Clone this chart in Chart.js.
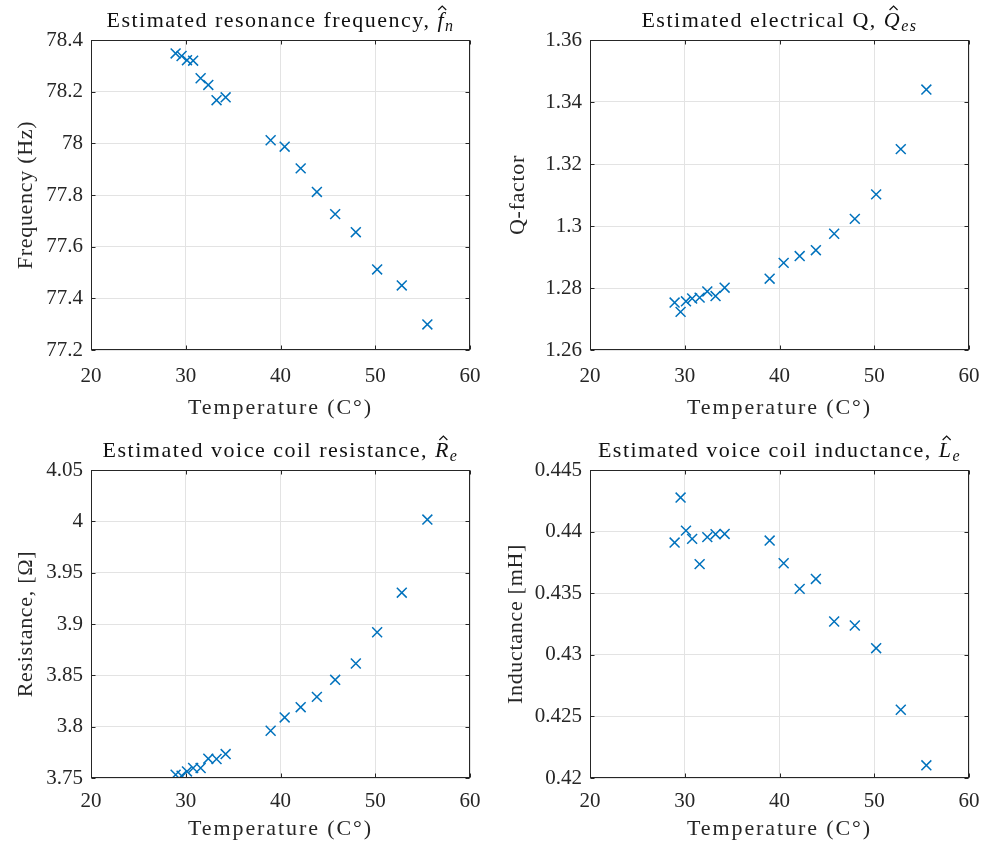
<!DOCTYPE html>
<html>
<head>
<meta charset="utf-8">
<script src="https://cdn.jsdelivr.net/npm/chart.js@4.4.1/dist/chart.umd.min.js"></script>
<style>
  body { margin: 0; background: #fff; }
  #wrap { position: relative; width: 982px; height: 845px; }
  canvas { position: absolute; }
</style>
</head>
<body>
<div id="wrap">
  <canvas id="freq" width="491" height="425" style="left:0;top:0"></canvas>
  <canvas id="qes" width="491" height="425" style="left:491px;top:0"></canvas>
  <canvas id="res" width="491" height="420" style="left:0;top:425px"></canvas>
  <canvas id="ind" width="491" height="420" style="left:491px;top:425px"></canvas>
</div>
<script>
var temperature = [28.93, 29.56, 30.13, 30.78, 31.57, 32.38, 33.25, 34.21, 38.96, 40.44, 42.13, 43.84, 45.77, 47.95, 50.2, 52.8, 55.5];
var frequency = [78.348, 78.338, 78.322, 78.320, 78.252, 78.226, 78.167, 78.178, 78.012, 77.987, 77.903, 77.812, 77.726, 77.656, 77.512, 77.450, 77.299];
var qFactor = [1.2753, 1.2723, 1.2757, 1.2766, 1.2769, 1.2789, 1.2774, 1.2801, 1.2830, 1.2881, 1.2903, 1.2922, 1.2975, 1.3023, 1.3102, 1.3248, 1.3440];
var resistance = [3.7532, 3.7522, 3.7564, 3.7597, 3.7597, 3.7688, 3.7685, 3.7733, 3.796, 3.809, 3.819, 3.829, 3.8456, 3.8615, 3.892, 3.9305, 4.0017];
var inductance = [0.43911, 0.44276, 0.44008, 0.43941, 0.43736, 0.43955, 0.43979, 0.43981, 0.43927, 0.43743, 0.43535, 0.43616, 0.43270, 0.43238, 0.43054, 0.42554, 0.42103];

var xTicks = [20, 30, 40, 50, 60];
var freqTicks = [77.2, 77.4, 77.6, 77.8, 78, 78.2, 78.4];
var qTicks = [1.26, 1.28, 1.3, 1.32, 1.34, 1.36];
var resTicks = [3.75, 3.8, 3.85, 3.9, 3.95, 4, 4.05];
var indTicks = [0.42, 0.425, 0.43, 0.435, 0.44, 0.445];

var FONT = '"Liberation Serif", "Times New Roman", serif';
var TEXT = '#262626';
var BLUE = '#0072BD';

// box around the axes with inward ticks on all four sides, like matlab
var framePlugin = {
    id: 'frame',
    afterDraw: function (chart) {
        var ctx = chart.ctx, a = chart.chartArea;
        var x = chart.scales.x, y = chart.scales.y;
        var L = Math.round(a.left) + 0.5, R = Math.round(a.right) - 0.5;
        var T = Math.round(a.top) + 0.5, B = Math.round(a.bottom) - 0.5;
        ctx.save();
        ctx.strokeStyle = TEXT;
        ctx.lineWidth = 1;
        ctx.strokeRect(L, T, R - L, B - T);
        ctx.beginPath();
        x.ticks.forEach(function (t) {
            var px = Math.round(x.getPixelForValue(t.value)) + 0.5;
            ctx.moveTo(px, B); ctx.lineTo(px, B - 4);
            ctx.moveTo(px, T); ctx.lineTo(px, T + 4);
        });
        y.ticks.forEach(function (t) {
            var py = Math.round(y.getPixelForValue(t.value)) + 0.5;
            ctx.moveTo(L, py); ctx.lineTo(L + 4, py);
            ctx.moveTo(R, py); ctx.lineTo(R - 4, py);
        });
        ctx.stroke();
        ctx.restore();
    }
};

// title with a hatted italic symbol and subscript, plus the axis labels
var textPlugin = {
    id: 'texts',
    afterDraw: function (chart, args, opts) {
        var ctx = chart.ctx, a = chart.chartArea;
        var size = 22, subSize = 16;
        function font(p) {
            return (p.it ? 'italic ' : '') + (p.sub ? subSize : size) + 'px ' + FONT;
        }
        ctx.save();
        ctx.fillStyle = '#111';
        ctx.strokeStyle = '#111';
        ctx.textBaseline = 'alphabetic';
        ctx.textAlign = 'left';
        ctx.letterSpacing = '1.5px';
        var total = 0;
        opts.parts.forEach(function (p) {
            ctx.font = font(p);
            p.w = ctx.measureText(p.t).width;
            total += p.w;
        });
        var x = (a.left + a.right) / 2 - total / 2;
        var base = a.top - 13;
        opts.parts.forEach(function (p) {
            ctx.font = font(p);
            ctx.fillText(p.t, x, p.sub ? base + 4 : base);
            if (p.hat) {
                var cx = x + p.w / 2 + 1;
                var top = base - 21;
                ctx.lineWidth = 1.2;
                ctx.beginPath();
                ctx.moveTo(cx - 4, top + 4);
                ctx.lineTo(cx, top);
                ctx.lineTo(cx + 4, top + 4);
                ctx.stroke();
            }
            x += p.w;
        });

        // axis labels
        ctx.fillStyle = TEXT;
        ctx.font = size + 'px ' + FONT;
        ctx.textAlign = 'center';
        ctx.letterSpacing = '1.9px';
        ctx.fillText(opts.xLabel, (a.left + a.right) / 2, a.bottom + opts.xOff);
        ctx.letterSpacing = '0.7px';
        ctx.translate(a.left - opts.yOff, (a.top + a.bottom) / 2);
        ctx.rotate(-Math.PI / 2);
        ctx.fillText(opts.yLabel, 0, 0);
        ctx.restore();
    }
};

function makeChart(id, values, yTicks, yLabel, parts, box) {
    var ctx = document.getElementById(id);
    var points = temperature.map(function (t, i) { return { x: t, y: values[i] }; });
    return new Chart(ctx, {
        type: 'scatter',
        data: {
            datasets: [{
                data: points,
                pointStyle: 'crossRot',
                pointRadius: 7,
                pointHoverRadius: 7,
                borderColor: BLUE,
                backgroundColor: BLUE,
                borderWidth: 1.5
            }]
        },
        options: {
            responsive: false,
            animation: false,
            events: [],
            layout: { padding: { left: 0, right: box.right, top: box.top, bottom: 0 } },
            plugins: {
                legend: { display: false },
                tooltip: { enabled: false },
                texts: { parts: parts, xLabel: 'Temperature (C\u00B0)', yLabel: yLabel, xOff: box.xOff, yOff: box.yOff }
            },
            scales: {
                x: {
                    type: 'linear',
                    min: 20, max: 60,
                    afterBuildTicks: function (s) { s.ticks = xTicks.map(function (v) { return { value: v }; }); },
                    afterFit: function (s) { s.height = box.xh; s.paddingLeft = 0; s.paddingRight = 0; },
                    grid: { color: '#e3e3e3', drawTicks: false },
                    border: { display: false },
                    ticks: {
                        color: TEXT, padding: box.xPad,
                        font: { family: FONT, size: 21 },
                        maxRotation: 0,
                        callback: function (v) { return String(v); }
                    }
                },
                y: {
                    type: 'linear',
                    min: yTicks[0], max: yTicks[yTicks.length - 1],
                    afterBuildTicks: function (s) { s.ticks = yTicks.map(function (v) { return { value: v }; }); },
                    afterFit: function (s) { s.width = box.yw; s.paddingTop = 0; s.paddingBottom = 0; },
                    grid: { color: '#e3e3e3', drawTicks: false },
                    border: { display: false },
                    ticks: {
                        color: TEXT, padding: 8,
                        font: { family: FONT, size: 21 },
                        callback: function (v) { return String(v); }
                    }
                }
            }
        },
        plugins: [framePlugin, textPlugin]
    });
}

makeChart('freq', frequency, freqTicks, 'Frequency (Hz)',
    [{ t: 'Estimated resonance frequency, ' }, { t: 'f', it: true, hat: true }, { t: 'n', it: true, sub: true }],
    { right: 21, top: 40, xh: 75, yw: 91, xPad: 14, xOff: 64, yOff: 59 });

makeChart('qes', qFactor, qTicks, 'Q-factor',
    [{ t: 'Estimated electrical Q, ' }, { t: 'Q', it: true, hat: true }, { t: 'es', it: true, sub: true }],
    { right: 13, top: 40, xh: 75, yw: 99, xPad: 14, xOff: 64, yOff: 66 });

makeChart('res', resistance, resTicks, 'Resistance, [\u03A9]',
    [{ t: 'Estimated voice coil resistance, ' }, { t: 'R', it: true, hat: true }, { t: 'e', it: true, sub: true }],
    { right: 21, top: 45, xh: 67, yw: 91, xPad: 11, xOff: 57, yOff: 59 });

makeChart('ind', inductance, indTicks, 'Inductance [mH]',
    [{ t: 'Estimated voice coil inductance, ' }, { t: 'L', it: true, hat: true }, { t: 'e', it: true, sub: true }],
    { right: 13, top: 45, xh: 67, yw: 99, xPad: 11, xOff: 57, yOff: 68 });
</script>
</body>
</html>
